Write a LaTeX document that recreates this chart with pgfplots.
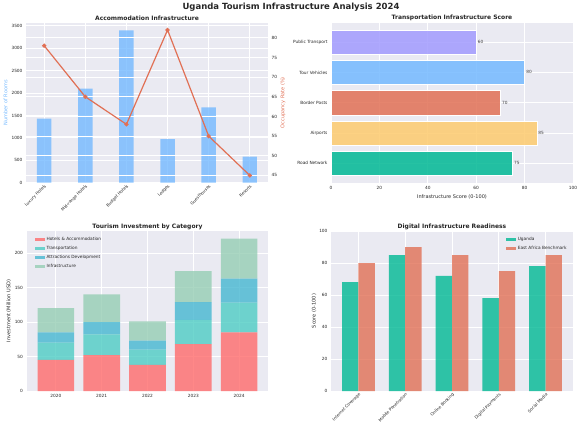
\documentclass[border=0pt]{standalone}
\usepackage{pgfplots}
\pgfplotsset{compat=1.18}
\usepackage{fontspec}
\setmainfont{DejaVu Sans}
\definecolor{bgc}{HTML}{EAEAF2}
\definecolor{txt}{HTML}{262626}
\definecolor{cblue}{HTML}{74B9FF}
\definecolor{cred}{HTML}{E17055}
\definecolor{cpurple}{HTML}{A29BFE}
\definecolor{cyellow}{HTML}{FDCB6E}
\definecolor{cgreen}{HTML}{00B894}
\definecolor{ia}{HTML}{FF6B6B}
\definecolor{ib}{HTML}{4ECDC4}
\definecolor{ic}{HTML}{45B7D1}
\definecolor{id}{HTML}{96CEB4}
\newcommand\tk{\fontsize{4.3}{5}\selectfont}
\newcommand\rt{\fontsize{4.1}{5}\selectfont}
\newcommand\lb{\fontsize{5}{6}\selectfont}
\newcommand\ttl{\fontsize{6}{7}\selectfont\bfseries}
\pgfplotsset{
  every axis title shift=0pt,
  panel/.style={
    scale only axis, width=242pt, height=160pt, anchor=south west,
    axis background/.style={fill=bgc},
    axis line style={draw=none},
    major tick length=0pt,
    grid=major,
    major grid style={white, line width=0.8pt},
    tick label style={font=\tk, text=txt},
    /pgf/number format/assume math mode=true,
    /pgf/number format/1000 sep={},
    label style={font=\lb, text=txt},
    title style={font=\ttl, text=txt, at={(0.5,1)}, anchor=south, inner sep=1.5pt},
    legend style={draw=none, fill=none, font=\tk, text=txt},
    legend cell align=left,
  },
  patch/.style={legend image code/.code={\fill[##1] (0pt,-1.4pt) rectangle (10pt,2pt);}},
}
\begin{document}
\begin{tikzpicture}
\path[use as bounding box] (0,0) rectangle (582pt,432pt);
\node[font=\fontsize{8.5}{9}\selectfont\bfseries, text=txt] at (291pt,425pt) {Uganda Tourism Infrastructure Analysis 2024};

% Panel 1
\begin{axis}[panel, at={(26pt,249.3pt)},
  title={Accommodation Infrastructure},
  xmin=-0.4425, xmax=5.4425, ymin=0, ymax=3570,
  xtick={0,...,5},
  xticklabels={Luxury Hotels,Mid-range Hotels,Budget Hotels,Lodges,Guesthouses,Resorts},
  xticklabel style={font=\rt, rotate=45, anchor=north east, inner sep=1pt},
  ytick={0,500,...,3500},
  ylabel={Number of Rooms},
  ylabel style={text=cblue, at={(axis description cs:-0.085,0.5)}, anchor=center}]
\addplot[ybar, bar width=0.35, bar shift=0pt, fill=cblue, fill opacity=0.8, draw=none]
  coordinates {(0,1430) (1,2100) (2,3400) (3,970) (4,1680) (5,580)};
\end{axis}
\begin{axis}[scale only axis, width=242pt, height=160pt, anchor=south west, at={(26pt,249.3pt)},
  xmin=-0.4425, xmax=5.4425, ymin=43.15, ymax=83.85,
  axis x line=none, axis y line*=right, axis line style={draw=none}, major tick length=0pt,
  ytick={45,50,...,80}, ymajorgrids, major grid style={white, line width=0.8pt},
  tick label style={font=\tk, text=txt},
  /pgf/number format/assume math mode=true,
  ylabel={Occupancy Rate (\%)},
  ylabel style={font=\lb, text=cred, at={(axis description cs:1.062,0.5)}, anchor=center}]
\addplot[color=cred, line width=1.2pt, mark=*, mark size=1.5pt, mark options={fill=cred}]
  coordinates {(0,78) (1,65) (2,58) (3,82) (4,55) (5,45)};
\end{axis}

% Panel 2
\begin{axis}[panel, at={(331pt,249.3pt)},
  title={Transportation Infrastructure Score},
  xmin=0, xmax=100, ymin=-0.64, ymax=4.64,
  xtick={0,20,...,100},
  ytick={0,...,4},
  yticklabels={Road Network,Airports,Border Posts,Tour Vehicles,Public Transport},
  xlabel={Infrastructure Score (0-100)},
  xlabel style={at={(axis description cs:0.5,-0.089)}, anchor=center},
  point meta=x,
  nodes near coords, nodes near coords align={horizontal},
  every node near coord/.append style={font=\tk, text=txt, anchor=west, inner sep=1.5pt,
    /pgf/number format/assume math mode=true}]
\addplot[xbar, bar width=0.8, bar shift=0pt, fill=cgreen, fill opacity=0.85, draw=white, line width=0.4pt] coordinates {(75,0)};
\addplot[xbar, bar width=0.8, bar shift=0pt, fill=cyellow, fill opacity=0.85, draw=white, line width=0.4pt] coordinates {(85,1)};
\addplot[xbar, bar width=0.8, bar shift=0pt, fill=cred, fill opacity=0.85, draw=white, line width=0.4pt] coordinates {(70,2)};
\addplot[xbar, bar width=0.8, bar shift=0pt, fill=cblue, fill opacity=0.85, draw=white, line width=0.4pt] coordinates {(80,3)};
\addplot[xbar, bar width=0.8, bar shift=0pt, fill=cpurple, fill opacity=0.85, draw=white, line width=0.4pt] coordinates {(60,4)};
\end{axis}

% Panel 3
\begin{axis}[panel, at={(26.5pt,41pt)},
  title={Tourism Investment by Category},
  xmin=-0.64, xmax=4.64, ymin=0, ymax=232,
  xtick={0,...,4}, xticklabels={2020,2021,2022,2023,2024},
  ytick={0,50,...,200},
  ylabel={Investment (Million USD)},
  ylabel style={at={(axis description cs:-0.073,0.5)}, anchor=center},
  ybar stacked, bar width=0.8,
  legend style={at={(axis description cs:0.02,0.985)}, anchor=north west, row sep=0.2pt},
  patch]
\addplot[fill=ia, fill opacity=0.8, draw=none] coordinates {(0,45) (1,52) (2,38) (3,68) (4,85)};
\addplot[fill=ib, fill opacity=0.8, draw=none] coordinates {(0,25) (1,30) (2,22) (3,35) (4,43)};
\addplot[fill=ic, fill opacity=0.8, draw=none] coordinates {(0,15) (1,18) (2,13) (3,26) (4,35)};
\addplot[fill=id, fill opacity=0.8, draw=none] coordinates {(0,35) (1,40) (2,28) (3,45) (4,58)};
\legend{Hotels \& Accommodation, Transportation, Attractions Development, Infrastructure}
\end{axis}

% Panel 4
\begin{axis}[panel, at={(331pt,41pt)},
  title={Digital Infrastructure Readiness},
  xmin=-0.585, xmax=4.585, ymin=0, ymax=100,
  xtick={0,...,4},
  xticklabels={Internet Coverage,Mobile Penetration,Online Booking,Digital Payments,Social Media},
  xticklabel style={font=\rt, rotate=45, anchor=north east, inner sep=1pt},
  ytick={0,20,...,100},
  ylabel={Score (0-100)},
  ylabel style={at={(axis description cs:-0.07,0.5)}, anchor=center},
  legend style={at={(axis description cs:0.995,0.985)}, anchor=north east, row sep=0.2pt},
  patch]
\addplot[ybar, bar width=0.35, bar shift=-0.175, fill=cgreen, fill opacity=0.8, draw=none]
  coordinates {(0,68) (1,85) (2,72) (3,58) (4,78)};
\addplot[ybar, bar width=0.35, bar shift=0.175, fill=cred, fill opacity=0.8, draw=none]
  coordinates {(0,80) (1,90) (2,85) (3,75) (4,85)};
\legend{Uganda, East Africa Benchmark}
\end{axis}
\end{tikzpicture}
\end{document}
